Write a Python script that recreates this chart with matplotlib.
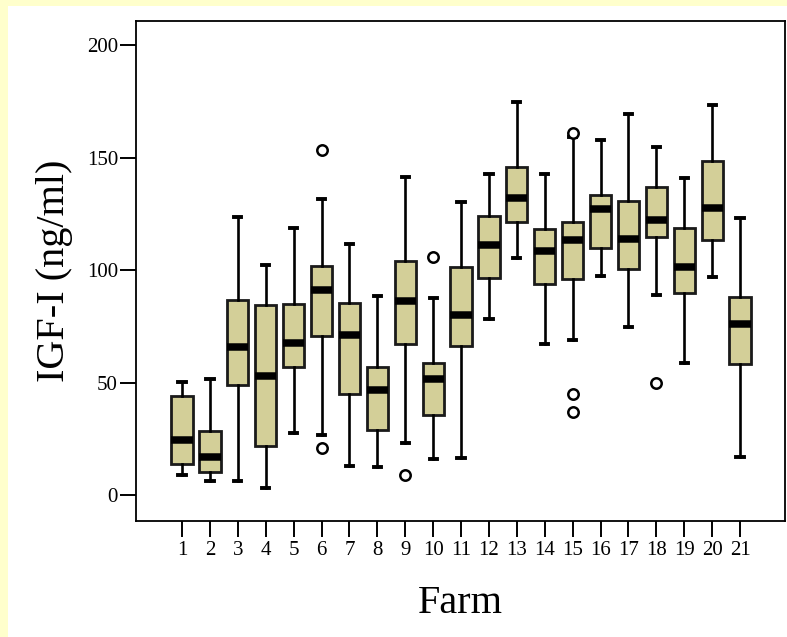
import matplotlib
matplotlib.use("Agg")
import matplotlib.pyplot as plt
from matplotlib.patches import Rectangle

# values (IGF-I, ng/ml)
farms = list(range(1, 22))
whisker_low = [8.9, 6.4, 6.4, 3.1, 27.8, 26.7, 12.9, 12.3, 23.3, 15.9, 16.3,
               78.1, 105.2, 67.3, 68.9, 97.5, 74.7, 88.9, 58.5, 97.0, 16.9]
q1 = [13.6, 10.1, 48.9, 21.6, 56.9, 70.8, 44.9, 28.7, 67.1, 35.4, 66.2,
      96.6, 121.3, 93.9, 96.1, 109.9, 100.6, 114.8, 89.6, 113.3, 58.1]
medians = [24.3, 16.7, 65.8, 52.9, 67.6, 91.0, 71.3, 46.8, 86.4, 51.4, 80.0,
           111.0, 132.0, 108.6, 113.2, 127.1, 113.9, 122.2, 101.3, 127.4, 76.1]
q3 = [43.9, 28.6, 86.7, 84.3, 84.7, 101.8, 85.2, 57.0, 104.1, 58.7, 101.5,
      123.9, 145.9, 118.4, 121.2, 133.5, 130.8, 136.7, 118.8, 148.4, 88.1]
whisker_high = [50.4, 51.6, 123.4, 102.1, 118.7, 131.8, 111.4, 88.4, 141.3, 87.7, 130.2,
                142.5, 174.7, 142.5, 159.3, 157.8, 169.3, 154.7, 140.9, 173.3, 123.1]
outliers = [[], [], [], [], [], [153.5, 21.0], [], [], [9.0], [105.6], [],
            [], [], [], [161.0, 44.9, 37.0], [], [], [49.9], [], [], []]

box_color = "#D3CF98"
edge_color = "#1a1a1a"
serif = ["Liberation Serif", "DejaVu Serif"]

plt.rcParams["font.family"] = serif

stats = []
for i in range(len(farms)):
    stats.append({
        "label": str(farms[i]),
        "whislo": whisker_low[i],
        "q1": q1[i],
        "med": medians[i],
        "q3": q3[i],
        "whishi": whisker_high[i],
        "fliers": outliers[i],
    })

fig = plt.figure(figsize=(7.87, 6.37), dpi=100, facecolor="#FFFFCC")
# white panel leaving a thin yellow frame on the left and top
fig.patches.append(Rectangle((8 / 787, 0), 779 / 787, 631 / 637,
                             transform=fig.transFigure, facecolor="white",
                             edgecolor="none", zorder=-10))

ax = fig.add_axes([136 / 787, 116.3 / 637, 649 / 787, 499.7 / 637])
ax.set_zorder(5)

ax.bxp(
    stats,
    positions=farms,
    widths=0.76,
    patch_artist=True,
    boxprops=dict(facecolor=box_color, edgecolor=edge_color, linewidth=2.0),
    medianprops=dict(color="black", linewidth=5.4, solid_capstyle="butt"),
    whiskerprops=dict(color="black", linewidth=1.9),
    capprops=dict(color="black", linewidth=2.8),
    capwidths=0.26,
    flierprops=dict(marker="o", markersize=7.5, markerfacecolor="white",
                    markeredgecolor="black", markeredgewidth=1.8),
)

ax.set_xlim(-0.65, 22.61)
ax.set_ylim(-11.4, 210.7)
ax.set_yticks([0, 50, 100, 150, 200])
ax.set_xticks(farms)
ax.set_xticklabels([str(f) for f in farms])

ax.tick_params(axis="both", direction="out", length=11.5, width=1.4,
               labelsize=15, top=False, right=False)
ax.tick_params(axis="y", pad=1.5)
ax.tick_params(axis="x", pad=3)

for side in ["left", "bottom", "top", "right"]:
    ax.spines[side].set_linewidth(1.3)
    ax.spines[side].set_color("black")

ax.set_ylabel("IGF-I (ng/ml)", fontsize=29, labelpad=10)
ax.set_xlabel("Farm", fontsize=29, labelpad=18)

fig.savefig("out.png", dpi=100, facecolor=fig.get_facecolor())
